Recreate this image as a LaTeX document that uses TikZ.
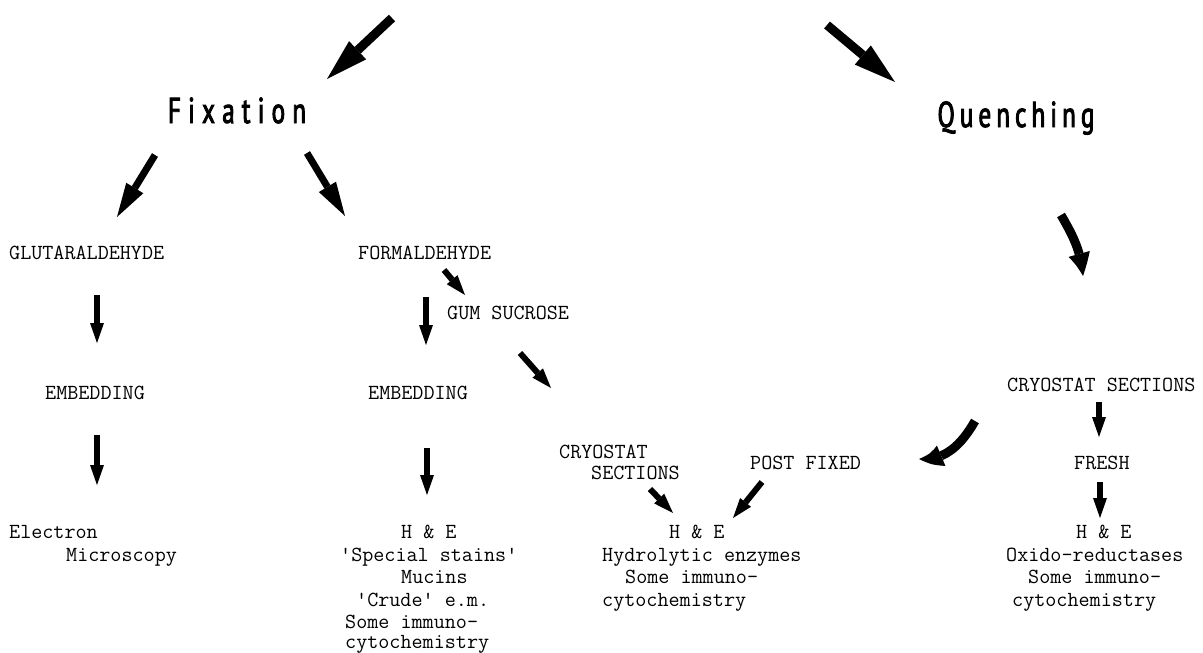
\documentclass[tikz,border=0pt]{standalone}
\usepackage{fontspec}
\newfontfamily\headfontA[FakeStretch=0.7,LetterSpace=20,FakeBold=2.5]{PT Sans}
\newfontfamily\headfontB[FakeStretch=0.7,LetterSpace=14,FakeBold=2.5]{PT Sans}
\usetikzlibrary{arrows.meta,bending}
\tikzset{
  tw/.style={font=\ttfamily\fontsize{21.5}{22.5}\selectfont, inner sep=0pt, anchor=base west},
  headtxt/.style={inner sep=0pt, anchor=base},
  bigarrow/.style={line width=9pt, -{Triangle[length=42pt,width=25pt,line width=0pt]}},
  midarrow/.style={line width=7pt, -{Triangle[length=34pt,width=20pt,line width=0pt]}},
  smallarrow/.style={line width=6pt, -{Triangle[length=20pt,width=14pt,line width=0pt]}},
  curvarrow/.style={line width=9pt, -{Triangle[length=24pt,width=22pt,line width=0pt,bend]}}
}
\begin{document}
\begin{tikzpicture}[x=1pt,y=-1pt]
\useasboundingbox (0,0) rectangle (1203,653);
\fill[white] (0,0) rectangle (1203,653);

% headings
\node[headtxt, font=\headfontA\fontsize{36}{40}\selectfont] (fix) at (237,123) {Fixation};
\node[headtxt, font=\headfontB\fontsize{36}{40}\selectfont] (que) at (1016,127) {Quenching};

% left column
\node[tw] (glu)   at (9,259)    {GLUTARALDEHYDE};
\node[tw] (emb1)  at (45,399)   {EMBEDDING};
\node[tw] (elec1) at (9,538.5)  {Electron};
\node[tw] (elec2) at (66,561)   {Microscopy};

% middle-left column
\node[tw] (form) at (358,259) {FORMALDEHYDE};
\node[tw] (gum)  at (447,319) {GUM SUCROSE};
\node[tw] (emb2) at (368,399) {EMBEDDING};
\node[tw] (ma1) at (401,538.5) {H \& E};
\node[tw] (ma2) at (340,561)   {'Special stains'};
\node[tw] (ma3) at (401,583.5) {Mucins};
\node[tw] (ma4) at (356,606)   {'Crude' e.m.};
\node[tw] (ma5) at (345,628)   {Some immuno-};
\node[tw] (ma6) at (345,648.5) {cytochemistry};

% middle column
\node[tw] (cry1) at (559,458) {CRYOSTAT};
\node[tw] (cry2) at (591,479) {SECTIONS};
\node[tw] (post) at (750,469) {POST FIXED};
\node[tw] (mb1) at (669,538.5) {H \& E};
\node[tw] (mb2) at (602,561)   {Hydrolytic enzymes};
\node[tw] (mb3) at (625,583.5) {Some immuno-};
\node[tw] (mb4) at (602,606)   {cytochemistry};

% right column
\node[tw] (cryR)  at (1007,391) {CRYOSTAT SECTIONS};
\node[tw] (fresh) at (1074,469) {FRESH};
\node[tw] (r1) at (1076,538.5) {H \& E};
\node[tw] (r2) at (1006,561)   {Oxido-reductases};
\node[tw] (r3) at (1028,583.5) {Some immuno-};
\node[tw] (r4) at (1012,606)   {cytochemistry};

% arrow end points
\coordinate (a1s) at (392,18);   \coordinate (a1e) at (327,79);
\coordinate (a2s) at (827,25);   \coordinate (a2e) at (895,82);
\coordinate (f1s) at (155,155);  \coordinate (f1e) at (117,217);
\coordinate (f2s) at (307,153);  \coordinate (f2e) at (345,216);
\coordinate (g1s) at (97,295);   \coordinate (g1e) at (97,343);
\coordinate (g2s) at (97,435);   \coordinate (g2e) at (97,485);
\coordinate (h1s) at (444,270);  \coordinate (h1e) at (465,295);
\coordinate (h2s) at (426,297);  \coordinate (h2e) at (426,345);
\coordinate (h3s) at (427,448);  \coordinate (h3e) at (427,495);
\coordinate (s1s) at (520,353);  \coordinate (s1e) at (551,388);
\coordinate (q1s) at (1061,215); \coordinate (q1e) at (1083,276);
\coordinate (q2s) at (1099,402); \coordinate (q2e) at (1099,437);
\coordinate (q3s) at (1100,482); \coordinate (q3e) at (1100,518);
\coordinate (q4s) at (975,421);  \coordinate (q4e) at (919,459);
\coordinate (c1s) at (650,489);  \coordinate (c1e) at (673,513);
\coordinate (p1s) at (762,482);  \coordinate (p1e) at (733,518);

% arrows
\draw[bigarrow] (a1s) -- (a1e);
\draw[bigarrow] (a2s) -- (a2e);
\draw[midarrow] (f1s) -- (f1e);
\draw[midarrow] (f2s) -- (f2e);
\draw[smallarrow] (g1s) -- (g1e);
\draw[smallarrow] (g2s) -- (g2e);
\draw[smallarrow] (h1s) -- (h1e);
\draw[smallarrow] (h2s) -- (h2e);
\draw[smallarrow] (h3s) -- (h3e);
\draw[smallarrow] (s1s) -- (s1e);
\draw[curvarrow] (q1s) to[out=-60,in=95] (q1e);
\draw[smallarrow] (q2s) -- (q2e);
\draw[smallarrow] (q3s) -- (q3e);
\draw[curvarrow] (q4s) to[out=-120,in=-5] (q4e);
\draw[smallarrow] (c1s) -- (c1e);
\draw[smallarrow] (p1s) -- (p1e);
\end{tikzpicture}
\end{document}
